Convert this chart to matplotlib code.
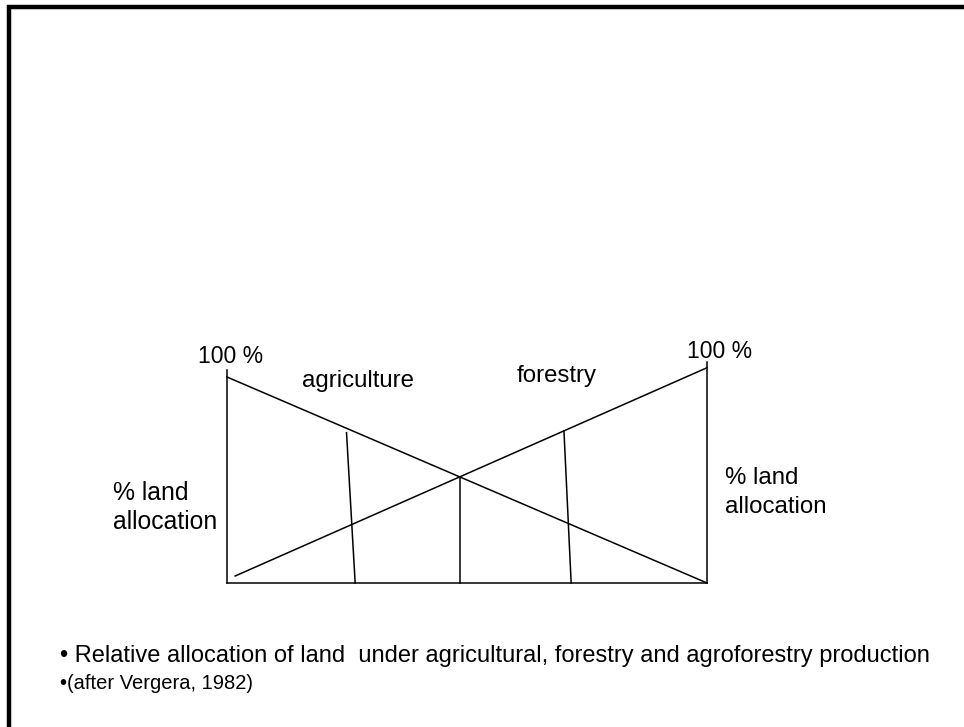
import matplotlib
matplotlib.use('Agg')
import matplotlib.pyplot as plt
from matplotlib.lines import Line2D

# ---- diagram data (x: position along the land-use gradient, y: % land allocation) ----
agri_x = [0, 100]
agri_y = [100, 0]
forest_x = [1.7, 100]
forest_y = [3.4, 104.5]

# vertical dividers: top point and foot on the baseline
divider_top_x = [24.9, 48.5, 70.2]
divider_top_y = [73.0, 51.5, 73.8]
divider_bot_x = [26.7, 48.5, 71.7]

left_axis_top = 103.4
right_axis_top = 107.3

label_text = ['100 %', '100 %', 'agriculture', 'forestry']
label_x = [0.7, 102.6, 27.2, 68.75]
label_y = [106.8, 109.2, 95.1, 97.7]

side_lines = ['% land', 'allocation']
side_left_x = -23.75
side_right_x = 103.75
side_left_y = [40.3, 26.2]
side_right_y = [48.1, 34.0]

notes = ['\u2022 Relative allocation of land  under agricultural, forestry and agroforestry production',
         '\u2022(after Vergera, 1982)']

W, H = 964, 727
plt.rcParams['font.family'] = ['Liberation Sans', 'DejaVu Sans']

fig = plt.figure(figsize=(W / 100, H / 100), dpi=100)
fig.patch.set_facecolor('white')

# slide border (top and left only)
fig.add_artist(Line2D([7 / W, 1], [1 - 7 / H, 1 - 7 / H], color='black', lw=3.2,
                      solid_capstyle='butt', transform=fig.transFigure))
fig.add_artist(Line2D([9.3 / W, 9.3 / W], [0, 1 - 5 / H], color='black', lw=3.2,
                      solid_capstyle='butt', transform=fig.transFigure))

ax = fig.add_axes([227 / W, (H - 583) / H, 480 / W, 206 / H])
ax.set_xlim(0, 100)
ax.set_ylim(0, 100)
ax.axis('off')

lw = 1.1
ax.plot(agri_x, agri_y, color='black', lw=lw, clip_on=False)
ax.plot(forest_x, forest_y, color='black', lw=lw, clip_on=False)
ax.plot([0, 0], [0, left_axis_top], color='black', lw=lw, clip_on=False)
ax.plot([100, 100], [0, right_axis_top], color='black', lw=lw, clip_on=False)
ax.plot([0, 100], [0, 0], color='black', lw=lw, clip_on=False)
for xt, yt, xb in zip(divider_top_x, divider_top_y, divider_bot_x):
    ax.plot([xt, xb], [yt, 0], color='black', lw=lw, clip_on=False)

for t, x, y in zip(label_text, label_x, label_y):
    fs = 16.5 if t.startswith('100') else 17.3
    ax.text(x, y, t, ha='center', va='baseline', fontsize=fs)

for t, y in zip(side_lines, side_left_y):
    ax.text(side_left_x, y, t, ha='left', va='baseline', fontsize=17.8)
for t, y in zip(side_lines, side_right_y):
    ax.text(side_right_x, y, t, ha='left', va='baseline', fontsize=17.3)

fig.text(60 / W, 1 - 662 / H, notes[0], ha='left', va='baseline', fontsize=17.0)
fig.text(60 / W, 1 - 689 / H, notes[1], ha='left', va='baseline', fontsize=14.5)

fig.savefig('out.png', dpi=100, facecolor='white')
